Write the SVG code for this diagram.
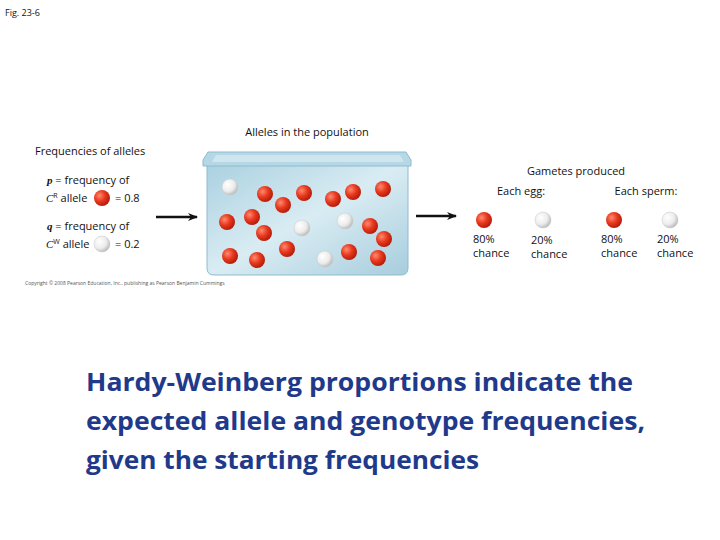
<svg xmlns="http://www.w3.org/2000/svg" width="720" height="540" viewBox="0 0 720 540">
<defs>
<radialGradient id="rg" cx="0.35" cy="0.35" r="0.7"><stop offset="0" stop-color="#ff8a70"/><stop offset="0.5" stop-color="#e8391e"/><stop offset="1" stop-color="#b01a08"/></radialGradient>
<radialGradient id="wg" cx="0.35" cy="0.35" r="0.7"><stop offset="0" stop-color="#ffffff"/><stop offset="0.6" stop-color="#ececec"/><stop offset="1" stop-color="#b8b8b8"/></radialGradient>
<linearGradient id="tank" x1="0" y1="0" x2="1" y2="1"><stop offset="0" stop-color="#a9d0e0"/><stop offset="0.5" stop-color="#d9ecf3"/><stop offset="1" stop-color="#a7cddd"/></linearGradient>
<marker id="ah" markerWidth="10" markerHeight="8" refX="9" refY="4" orient="auto" markerUnits="userSpaceOnUse"><path d="M0,0 L10,4 L0,8 L3,4 Z" fill="#111"/></marker>
<g id="R"><circle r="8" fill="url(#rg)"/></g>
<g id="W"><circle r="8" fill="url(#wg)" stroke="#c8c8c8" stroke-width="0.5"/></g>
</defs>
<style>
text{font-family:"Open Sans","Liberation Sans",sans-serif;fill:#111}
.s{font-size:11px}
.c{font-size:5px;fill:#555}
.t{font-size:25px;font-weight:bold;fill:#1f3a8a}
</style>
<text x="5" y="16" style="font-size:9px">Fig. 23-6</text>
<g id="legend">
<text x="35" y="155" class="s">Frequencies of alleles</text>
<text x="47" y="184" class="s"><tspan font-family="Liberation Serif" font-style="italic" font-weight="bold">p</tspan> = frequency of</text>
<text x="46" y="202" class="s"><tspan font-family="Liberation Serif" font-style="italic">C</tspan><tspan font-size="7" dy="-4">R</tspan><tspan dy="4"> allele</tspan><tspan x="115">= 0.8</tspan></text>
<use href="#R" x="102" y="198"/>
<text x="47" y="230" class="s"><tspan font-family="Liberation Serif" font-style="italic" font-weight="bold">q</tspan> = frequency of</text>
<text x="46" y="248" class="s"><tspan font-family="Liberation Serif" font-style="italic">C</tspan><tspan font-size="7" dy="-4">W</tspan><tspan dy="4"> allele</tspan><tspan x="115">= 0.2</tspan></text>
<use href="#W" x="102" y="244"/>
</g>
<g id="connectors" stroke="#111" stroke-width="2.5" fill="none">
<line x1="156" y1="217" x2="197" y2="217" marker-end="url(#ah)"/>
<line x1="416" y1="216" x2="456" y2="216" marker-end="url(#ah)"/>
</g>
<g id="population">
<text x="307" y="136" class="s" text-anchor="middle">Alleles in the population</text>
<path d="M207,162 L207,268 Q207,275 214,275 L401,275 Q408,275 408,268 L408,162 Z" fill="url(#tank)" stroke="#8fbccc"/>
<path d="M203,160 L208,152 L406,152 L411,160 L411,166 L203,166 Z" fill="#b6d8e6" stroke="#8fbccc"/>
<path d="M212,162 L216,155 L400,155 L404,162 Z" fill="#cfe6ef"/>
<use href="#W" x="230" y="187"/>
<use href="#R" x="265" y="194"/><use href="#R" x="283" y="205"/><use href="#R" x="304" y="193"/><use href="#R" x="333" y="199"/><use href="#R" x="353" y="192"/><use href="#R" x="383" y="189"/>
<use href="#R" x="227" y="222"/><use href="#R" x="252" y="217"/><use href="#R" x="264" y="233"/><use href="#W" x="302" y="228"/><use href="#W" x="345" y="221"/><use href="#R" x="370" y="226"/><use href="#R" x="384" y="239"/>
<use href="#R" x="230" y="256"/><use href="#R" x="257" y="260"/><use href="#R" x="287" y="249"/><use href="#W" x="325" y="259"/><use href="#R" x="349" y="252"/><use href="#R" x="378" y="258"/>
<text x="25" y="285" class="c">Copyright © 2008 Pearson Education, Inc., publishing as Pearson Benjamin Cummings</text>
</g>
<g id="gametes">
<text x="576" y="175" class="s" text-anchor="middle">Gametes produced</text>
<text x="521" y="195" class="s" text-anchor="middle">Each egg:</text>
<text x="646" y="195" class="s" text-anchor="middle">Each sperm:</text>
<use href="#R" x="484" y="220"/><use href="#W" x="543" y="220"/><use href="#R" x="614" y="220"/><use href="#W" x="670" y="220"/>
<text x="473" y="243" class="s">80%</text><text x="473" y="257" class="s">chance</text>
<text x="531" y="244" class="s">20%</text><text x="531" y="258" class="s">chance</text>
<text x="601" y="243" class="s">80%</text><text x="601" y="257" class="s">chance</text>
<text x="657" y="243" class="s">20%</text><text x="657" y="257" class="s">chance</text>
</g>
<g id="caption">
<text x="86" y="391" class="t" textLength="547" lengthAdjust="spacingAndGlyphs">Hardy-Weinberg proportions indicate the</text>
<text x="86" y="430" class="t" textLength="559" lengthAdjust="spacingAndGlyphs">expected allele and genotype frequencies,</text>
<text x="86" y="469" class="t" textLength="393" lengthAdjust="spacingAndGlyphs">given the starting frequencies</text>
</g>
</svg>
